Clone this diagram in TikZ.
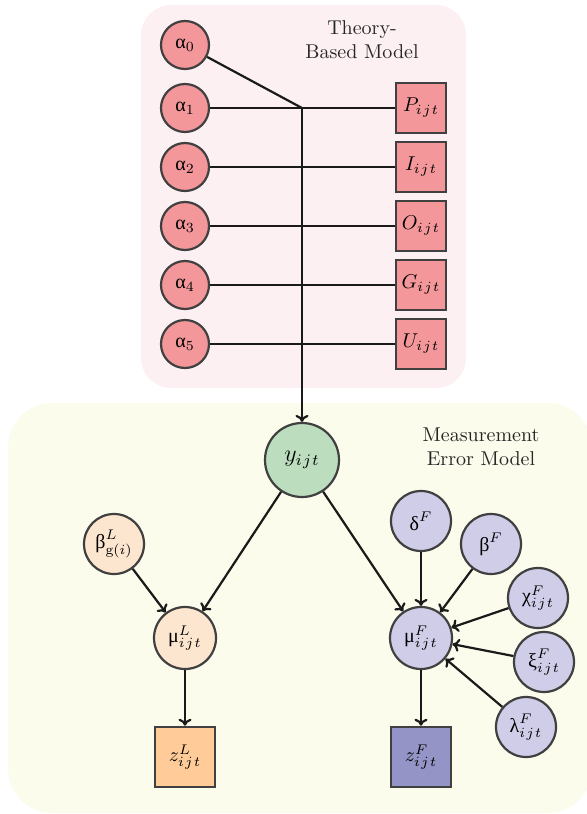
\documentclass[tikz,border=0pt]{standalone}
\usepackage{fontspec}
\newfontfamily\gr{Liberation Serif}
\usetikzlibrary{arrows.meta}
\definecolor{pinkbg}{HTML}{FDF0F2}
\definecolor{pinknode}{HTML}{F4979A}
\definecolor{bordgray}{HTML}{404040}
\definecolor{linecol}{HTML}{1A1A1A}
\definecolor{yellowbg}{HTML}{FBFCEC}
\definecolor{greennode}{HTML}{BCDEBF}
\definecolor{peachnode}{HTML}{FDE6CF}
\definecolor{orangenode}{HTML}{FFCC99}
\definecolor{lavnode}{HTML}{CFCDE8}
\definecolor{purplenode}{HTML}{9494C6}
\newcommand{\gk}[1]{\mbox{\gr #1}}
\newcommand{\ijt}{i\mkern1.5mu j\mkern1.5mu t}
\tikzset{
  var/.style={circle, draw=bordgray, line width=1.1pt, inner sep=0pt},
  obs/.style={rectangle, draw=bordgray, line width=1.3pt, inner sep=0pt},
  conn/.style={draw=linecol, line width=1.1pt},
  arr/.style={conn, -{To[length=3.5pt,width=6.5pt]}},
  title/.style={align=center, font=\normalsize, text=black!85}
}
\begin{document}
\begin{tikzpicture}[x=0.5pt,y=-0.5pt]
\useasboundingbox (0,0) rectangle (587,814);
% backgrounds
\fill[pinkbg, rounded corners=15pt] (141,5) rectangle (466,388);
\fill[yellowbg, rounded corners=22pt] (8,403) rectangle (592,813);
\node[title] (tbm) at (362,40) {Theory-\\Based Model};
\node[title] (mem) at (481,447) {Measurement\\Error Model};
% alpha nodes
\foreach \i/\yy in {0/45,1/108,2/167,3/226,4/285,5/344}{
  \node[var, fill=pinknode, minimum size=24pt] (a\i) at (185,\yy) {$\gk{α}_{\i}$};
}
\node[obs, fill=pinknode, minimum size=25pt] (P) at (421,108) {$P_{\ijt}$};
\node[obs, fill=pinknode, minimum size=25pt] (I) at (421,167) {$I_{\ijt}$};
\node[obs, fill=pinknode, minimum size=25pt] (O) at (421,226) {$O_{\ijt}$};
\node[obs, fill=pinknode, minimum size=25pt] (G) at (421,285) {$G_{\ijt}$};
\node[obs, fill=pinknode, minimum size=25pt] (U) at (421,344) {$U_{\ijt}$};
\coordinate (J) at (302,108);
% y node
\node[var, fill=greennode, minimum size=37pt, font=\large] (y) at (302,460) {$y_{\ijt}$};
% lower left
\node[var, fill=peachnode, minimum size=30pt] (bL) at (114,544) {$\gk{β}^{L}_{\mathrm{g}(i)}$};
\node[var, fill=peachnode, minimum size=31pt] (muL) at (185,638) {$\gk{μ}^{L}_{\ijt}$};
\node[obs, fill=orangenode, minimum size=30pt] (zL) at (185,757) {$z^{L}_{\ijt}$};
% lower right
\node[var, fill=lavnode, minimum size=31pt] (muF) at (421,638) {$\gk{μ}^{F}_{\ijt}$};
\node[obs, fill=purplenode, minimum size=30pt] (zF) at (421,757) {$z^{F}_{\ijt}$};
\node[var, fill=lavnode, minimum size=30pt] (dF) at (421,521) {$\gk{δ}^{F}$};
\node[var, fill=lavnode, minimum size=30pt] (bF) at (491,544) {$\gk{β}^{F}$};
\node[var, fill=lavnode, minimum size=30pt] (cF) at (538,598) {$\gk{χ}^{F}_{\ijt}$};
\node[var, fill=lavnode, minimum size=30pt] (xF) at (544,662) {$\gk{ξ}^{F}_{\ijt}$};
\node[var, fill=lavnode, minimum size=30pt] (lF) at (526,727) {$\gk{λ}^{F}_{\ijt}$};
% connectors top
\draw[conn] (a0) -- (J);
\draw[conn] (a1) -- (P);
\draw[conn] (a2) -- (I);
\draw[conn] (a3) -- (O);
\draw[conn] (a4) -- (G);
\draw[conn] (a5) -- (U);
\draw[arr] (J) -- (y);
% connectors bottom
\draw[arr] (y) -- (muL);
\draw[arr] (y) -- (muF);
\draw[arr] (bL) -- (muL);
\draw[arr] (muL) -- (zL);
\draw[arr] (dF) -- (muF);
\draw[arr] (bF) -- (muF);
\draw[arr] (cF) -- (muF);
\draw[arr] (xF) -- (muF);
\draw[arr] (lF) -- (muF);
\draw[arr] (muF) -- (zF);
\end{tikzpicture}
\end{document}
